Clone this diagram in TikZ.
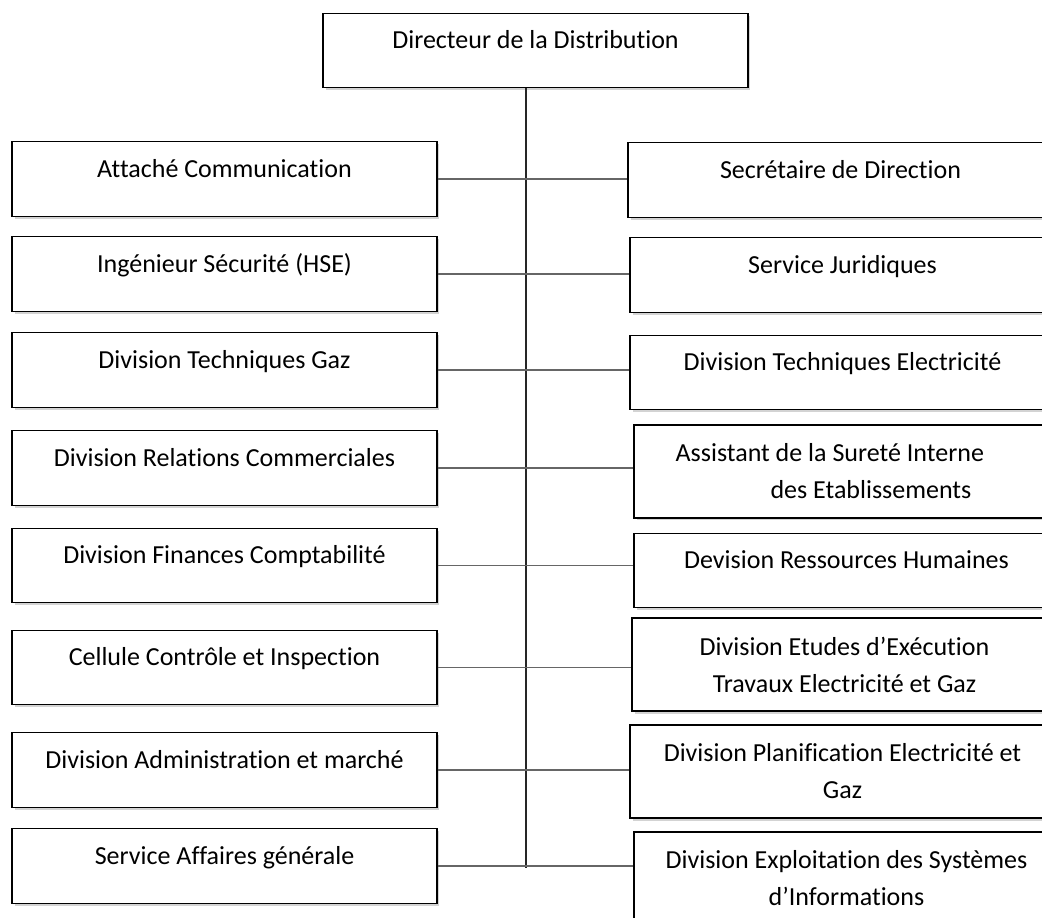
\documentclass[tikz,border=0pt]{standalone}
\usepackage{fontspec}
\setmainfont{Carlito}[Ligatures=NoCommon]
\usetikzlibrary{shadows}

\begin{document}
\begin{tikzpicture}[
    x=0.02cm, y=-0.02cm,
    font=\fontsize{14.8}{21}\selectfont,
    box/.style={draw=black, line width=0.8pt, fill=white,
      minimum width=8.5cm, minimum height=1.49cm, align=center, inner sep=2pt,
      drop shadow={shadow xshift=0.5mm, shadow yshift=-0.5mm, opacity=0.35}},
    oneline/.style={box, text height=9pt, text depth=10.8pt},
    twoline/.style={box, minimum height=1.86cm},
    branch/.style={black!60, line width=1.1pt},
    trunk/.style={black!85, line width=0.8pt}
  ]
  \useasboundingbox (0,0) rectangle (1042,917);
  \clip (0,0) rectangle (1042,917);

  % director
  \node[oneline] (dir) at (535.5,50.5) {Directeur de la Distribution};

  % left column
  \foreach \n/\y/\lab in {1/179/Attaché Communication,
                          2/274/Ingénieur Sécurité (HSE),
                          3/370/Division Techniques Gaz,
                          4/468/Division Relations Commerciales,
                          5/565.5/Division Finances Comptabilité,
                          6/667.5/Cellule Contrôle et Inspection,
                          7/770/Division Administration et marché,
                          8/866/Service Affaires générale}
    \node[oneline] (L\n) at (224.5,\y) {\lab};

  % right column
  \node[oneline] (R1) at (840.5,180) {Secrétaire de Direction};
  \node[oneline] (R2) at (842.5,275) {Service Juridiques};
  \node[oneline] (R3) at (842.5,372.5) {Division Techniques Electricité};
  \node[twoline, align=left] (R4) at (846.5,471.5)
    {Assistant de la Sureté Interne\hspace*{19pt}\\\hspace*{54pt}des Etablissements};
  \node[oneline] (R5) at (846.5,570.5) {Devision Ressources Humaines};
  \node[twoline] (R6) at (844.5,664.5)
    {Division Etudes d’Exécution\\Travaux Electricité et Gaz};
  \node[twoline] (R7) at (842.5,771.5)
    {Division Planification Electricité et\\Gaz};
  \node[twoline] (R8) at (846.5,878.5)
    {Division Exploitation des Systèmes\\d’Informations};

  % trunk
  \coordinate (foot) at (526,868);
  \draw[trunk] (dir.south -| foot) -- (foot);

  % branches
  \foreach \n in {1,...,8}
    \draw[branch] (L\n.east) -- (L\n.east -| R\n.west);
\end{tikzpicture}
\end{document}
